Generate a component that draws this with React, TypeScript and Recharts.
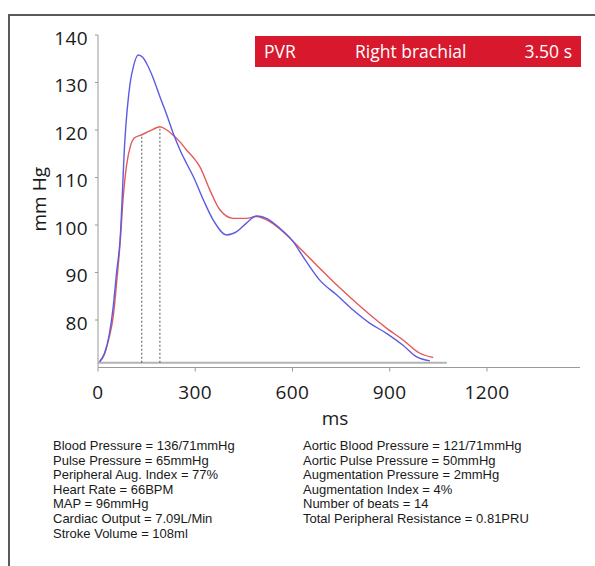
import React from 'react';
import { LineChart, Line, XAxis, YAxis, ReferenceLine } from 'recharts';

// Brachial (peripheral) waveform, blue
const brachialT = [5, 20, 35, 47, 57, 68, 83, 99, 109, 124, 138, 150, 171, 191, 212, 232, 253, 273, 294, 325, 355, 397, 428, 458, 489, 520, 561, 602, 633, 684, 736, 787, 839, 890, 941, 982, 1024];
const brachialP = [71.2, 73, 77, 82.8, 89.8, 96.8, 117.9, 129.8, 133.3, 135.8, 135.3, 134, 130.8, 127, 123.2, 119.3, 115.8, 113, 110.2, 105.3, 101.1, 97.9, 98.6, 100.4, 101.9, 101.4, 99.3, 96.5, 93.3, 88.4, 85.3, 82.1, 79.3, 77.2, 74.7, 72.3, 71.4];

// Aortic (central) waveform, red
const aorticT = [5, 20, 35, 47, 57, 68, 78, 88, 100, 112, 135, 160, 191, 212, 232, 253, 273, 294, 314, 345, 376, 417, 458, 489, 530, 582, 633, 684, 736, 787, 839, 890, 941, 993, 1034];
const aorticP = [71.2, 72.8, 76.5, 80.7, 87.5, 96, 106, 112.5, 116.6, 118.3, 119, 119.8, 120.7, 120, 118.9, 117.5, 115.8, 114.2, 112.3, 107.4, 103.2, 101.4, 101.4, 101.8, 100.7, 97.9, 94.4, 90.9, 87.4, 84.2, 81.1, 78.3, 75.8, 73, 72.1];

const xTicks = [0, 300, 600, 900, 1200];
const yTicks = [80, 90, 100, 110, 120, 130, 140];

// Markers: first shoulder (T1) and aortic peak (T2), diastolic baseline
const markerT = [135, 191];
const markerP = [119, 120.7];
const diastolic = 71;
const baselineEnd = 1076;

const banner = { mode: 'PVR', site: 'Right brachial', duration: '3.50 s' };

const leftStats = [
  'Blood Pressure = 136/71mmHg',
  'Pulse Pressure = 65mmHg',
  'Peripheral Aug. Index = 77%',
  'Heart Rate = 66BPM',
  'MAP = 96mmHg',
  'Cardiac Output = 7.09L/Min',
  'Stroke Volume = 108ml',
];
const rightStats = [
  'Aortic Blood Pressure = 121/71mmHg',
  'Aortic Pulse Pressure = 50mmHg',
  'Augmentation Pressure = 2mmHg',
  'Augmentation Index = 4%',
  'Number of beats = 14',
  'Total Peripheral Resistance = 0.81PRU',
];

const brachialData = brachialT.map((t, i) => ({ t, p: brachialP[i] }));
const aorticData = aorticT.map((t, i) => ({ t, p: aorticP[i] }));

const FONT = '"Open Sans", "Noto Sans", sans-serif';
const TICK_FS = 19;

const YTick = (props: any) => {
  const { x, y, payload } = props;
  return (
    <text x={x} y={y + 3} dy="0.355em" textAnchor="end" fontFamily={FONT} fontSize={TICK_FS} letterSpacing={0.4} fill="#1a1a1a">
      {payload.value}
    </text>
  );
};

const XTick = (props: any) => {
  const { x, y, payload } = props;
  return (
    <text x={x} y={y} dy="0.71em" textAnchor="middle" fontFamily={FONT} fontSize={TICK_FS} letterSpacing={0.4} fill="#1a1a1a">
      {payload.value}
    </text>
  );
};

const YTitle = (props: any) => {
  const vb = props.viewBox || {};
  const cx = (vb.x ?? 0) + 11;
  const cy = (vb.y ?? 0) + (vb.height ?? 0) / 2 - 2;
  return (
    <text x={cx} y={cy} transform={`rotate(-90 ${cx} ${cy})`} textAnchor="middle" dominantBaseline="central" fontFamily={FONT} fontSize={19} fill="#1a1a1a">
      mm Hg
    </text>
  );
};

const XTitle = (props: any) => {
  const vb = props.viewBox || {};
  const cx = (vb.x ?? 0) + (vb.width ?? 0) / 2 - 4;
  const cy = (vb.y ?? 0) + 50;
  return (
    <text x={cx} y={cy} textAnchor="middle" dominantBaseline="central" fontFamily={FONT} fontSize={19} fill="#1a1a1a">
      ms
    </text>
  );
};

const statStyle: React.CSSProperties = {
  position: 'absolute',
  top: 439,
  fontFamily: '"Liberation Sans", Arial, sans-serif',
  fontSize: 13,
  lineHeight: '14.6px',
  color: '#1a1a1a',
  whiteSpace: 'nowrap',
};

export default function App() {
  return (
    <div style={{ position: 'absolute', left: 0, top: 0, width: 595, height: 566, background: '#fff', overflow: 'hidden' }}>
      <div style={{ position: 'absolute', left: 8, top: 14, width: 600, height: 600, borderTop: '2px solid #5a5a5a', borderLeft: '2px solid #5a5a5a' }} />
      <LineChart
        width={595}
        height={566}
        margin={{ top: 35, right: 15, bottom: 138.5, left: 28 }}
        style={{ position: 'absolute', left: 0, top: 0 }}
      >
        <XAxis
          type="number"
          dataKey="t"
          domain={[0, 1487]}
          ticks={xTicks}
          allowDataOverflow
          height={60}
          tickSize={4}
          tickMargin={14}
          tick={<XTick />}
          stroke="#9a9a9a"
          tickLine={{ stroke: '#9a9a9a' }}
          label={<XTitle />}
        />
        <YAxis
          type="number"
          domain={[70, 140]}
          ticks={yTicks}
          allowDataOverflow
          width={70}
          tickSize={3}
          tickMargin={7}
          tick={<YTick />}
          stroke="#9a9a9a"
          tickLine={{ stroke: '#9a9a9a' }}
          label={<YTitle />}
        />
        <ReferenceLine
          segment={[{ x: 0, y: diastolic }, { x: baselineEnd, y: diastolic }]}
          stroke="#b4b4b4"
          strokeWidth={2}
          ifOverflow="visible"
        />
        {markerT.map((t, i) => (
          <ReferenceLine
            key={i}
            segment={[{ x: t, y: diastolic }, { x: t, y: markerP[i] }]}
            stroke="#555"
            strokeWidth={1}
            strokeDasharray="2 2"
            ifOverflow="visible"
          />
        ))}
        <Line
          data={aorticData}
          dataKey="p"
          type="monotone"
          stroke="#e25a5a"
          strokeWidth={1.4}
          dot={false}
          isAnimationActive={false}
        />
        <Line
          data={brachialData}
          dataKey="p"
          type="monotone"
          stroke="#5b5be4"
          strokeWidth={1.4}
          dot={false}
          isAnimationActive={false}
        />
      </LineChart>
      <div
        style={{
          position: 'absolute',
          left: 255,
          top: 36,
          width: 326,
          height: 31,
          background: '#d7182d',
          color: '#fff',
          fontFamily: FONT,
          fontSize: 17.5,
          lineHeight: '31px',
        }}
      >
        <span style={{ position: 'absolute', left: 9 }}>{banner.mode}</span>
        <span style={{ position: 'absolute', left: 100 }}>{banner.site}</span>
        <span style={{ position: 'absolute', right: 9 }}>{banner.duration}</span>
      </div>
      <div style={{ ...statStyle, left: 53 }}>
        {leftStats.map((s, i) => (
          <div key={i}>{s}</div>
        ))}
      </div>
      <div style={{ ...statStyle, left: 303 }}>
        {rightStats.map((s, i) => (
          <div key={i}>{s}</div>
        ))}
      </div>
    </div>
  );
}
